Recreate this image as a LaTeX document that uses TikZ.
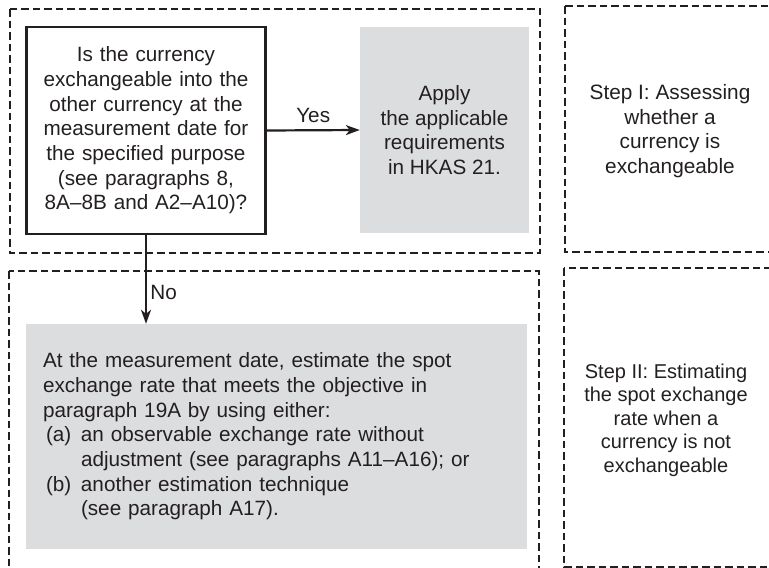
\documentclass[tikz,border=0pt]{standalone}
\usepackage{fontspec}
\setmainfont{Liberation Sans}
\usetikzlibrary{arrows.meta}
\definecolor{boxgrey}{RGB}{220,221,223}
\definecolor{ink}{RGB}{35,31,32}
\begin{document}
\begin{tikzpicture}[x=1pt,y=-1pt,
  frame/.style={draw=ink,line width=2.4pt,dash pattern=on 7.5pt off 4pt},
  askbox/.style={draw=ink,line width=2.2pt,minimum width=239pt,minimum height=207pt,
    text width=225pt,align=center,inner sep=0pt},
  shade/.style={fill=boxgrey,inner sep=0pt},
  steptext/.style={align=center,font=\fontsize{20.8}{24.7}\selectfont},
  link/.style={draw=ink,line width=2.2pt,-{Stealth[length=14pt,width=10pt,inset=4pt]}},
  font=\fontsize{20.7}{24.7}\selectfont,text=ink]
\path[use as bounding box,clip] (0,0) rectangle (769,568);
\draw[frame] (10,9) rectangle (540,253);
\draw[frame] (565,6) rectangle (800,252);
\draw[frame] (9,271) rectangle (539,600);
\draw[frame] (564,268) rectangle (800,567);
\node[askbox] (ask) at (146,130.5) {Is the currency\\exchangeable into the\\other currency at the\\measurement date for\\the specified purpose\\(see paragraphs 8,\\8A–8B and A2–A10)?};
\node[shade,minimum width=169pt,minimum height=206pt,align=center] (apply) at (444.5,130) {Apply\\the applicable\\requirements\\in HKAS 21.};
\node[shade,minimum height=225pt,text width=467pt,inner xsep=17pt,align=left] (estimate) at (276.5,436.5) {At the measurement date, estimate the spot\\
exchange rate that meets the objective in\\
paragraph 19A by using either:\\
\hspace*{3pt}\makebox[35pt][l]{(a)}an observable exchange rate without\\
\hspace*{38pt}adjustment (see paragraphs A11–A16); or\\
\hspace*{3pt}\makebox[35pt][l]{(b)}another estimation technique\\
\hspace*{38pt}(see paragraph A17).};
\node[steptext] (stepone) at (670,131) {Step I: Assessing\\whether a\\currency is\\exchangeable};
\node[steptext,font=\fontsize{20}{23.5}\selectfont] (steptwo) at (666,420) {Step II: Estimating\\the spot exchange\\rate when a\\currency is not\\exchangeable};
\draw[link] (ask.east) -- node[above,inner sep=6pt] (yes) {Yes} (apply.west);
\draw[link] (ask.south) -- node[pos=.65,right] (no) {No} (ask.south |- estimate.north);
\end{tikzpicture}
\end{document}
